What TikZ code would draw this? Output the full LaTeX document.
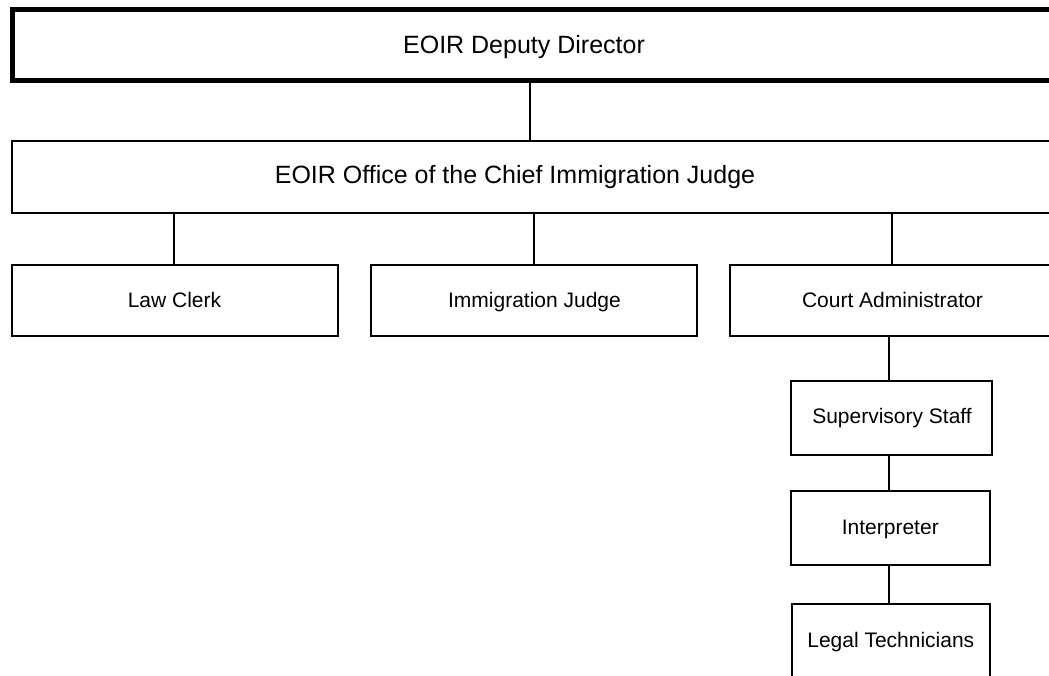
\documentclass[tikz,border=0pt]{standalone}
\usepackage{fontspec}
\setmainfont{Liberation Sans}
\begin{document}
\begin{tikzpicture}[x=1pt,y=-1pt,
  box/.style={draw=black,line width=2pt,inner sep=0pt,outer sep=0pt,fill=white},
  bigtxt/.style={anchor=base,inner sep=0pt,font=\fontsize{25}{30}\selectfont},
  smalltxt/.style={anchor=base,inner sep=0pt,font=\fontsize{21}{25}\selectfont},
  conn/.style={draw=black,line width=2pt}]
\useasboundingbox (0,0) rectangle (1049,675);
\fill[white] (0,0) rectangle (1049,675);
\clip (0,0) rectangle (1049,675);
% boxes
\node[box,line width=5pt,minimum width=1057.5pt,minimum height=71pt] (top) at (541.25,45) {};
\node[box,minimum width=1058pt,minimum height=71.5pt] (office) at (541,176.75) {};
\node[box,minimum width=325.5pt,minimum height=71pt] (law) at (174.75,300.5) {};
\node[box,minimum width=326pt,minimum height=71pt] (ij) at (533.7,300.5) {};
\node[box,minimum width=340pt,minimum height=71pt] (ca) at (899.7,300.5) {};
\node[box,minimum width=201.3pt,minimum height=74pt] (ss) at (891.65,418) {};
\node[box,minimum width=198.7pt,minimum height=73.7pt] (interp) at (890.35,528.15) {};
\node[box,minimum width=198pt,minimum height=90pt] (legal) at (890.7,649.3) {};
% connector x positions
\coordinate (k1) at (529.7,0);
\coordinate (k2) at (174,0);
\coordinate (k3) at (534,0);
\coordinate (k4) at (892.3,0);
\coordinate (k5) at (889.3,0);
% connectors
\draw[conn] (k1 |- top.south) -- (k1 |- office.north);
\draw[conn] (k2 |- office.south) -- (k2 |- law.north);
\draw[conn] (k3 |- office.south) -- (k3 |- ij.north);
\draw[conn] (k4 |- office.south) -- (k4 |- ca.north);
\draw[conn] (k5 |- ca.south) -- (k5 |- ss.north);
\draw[conn] (k5 |- ss.south) -- (k5 |- interp.north);
\draw[conn] (k5 |- interp.south) -- (k5 |- legal.north);
% texts
\node[bigtxt] (ttop) at (524,53.3) {EOIR Deputy Director};
\node[bigtxt] (toffice) at (515,183.3) {EOIR Office of the Chief Immigration Judge};
\node[smalltxt] (tlaw) at (174.5,307.3) {Law Clerk};
\node[smalltxt] (tij) at (534.5,307.3) {Immigration Judge};
\node[smalltxt] (tca) at (892.5,307.3) {Court Administrator};
\node[smalltxt] (tss) at (892,423.3) {Supervisory Staff};
\node[smalltxt] (tinterp) at (890.3,534) {Interpreter};
\node[smalltxt] (tlegal) at (890.8,647.3) {Legal Technicians};
\end{tikzpicture}
\end{document}
